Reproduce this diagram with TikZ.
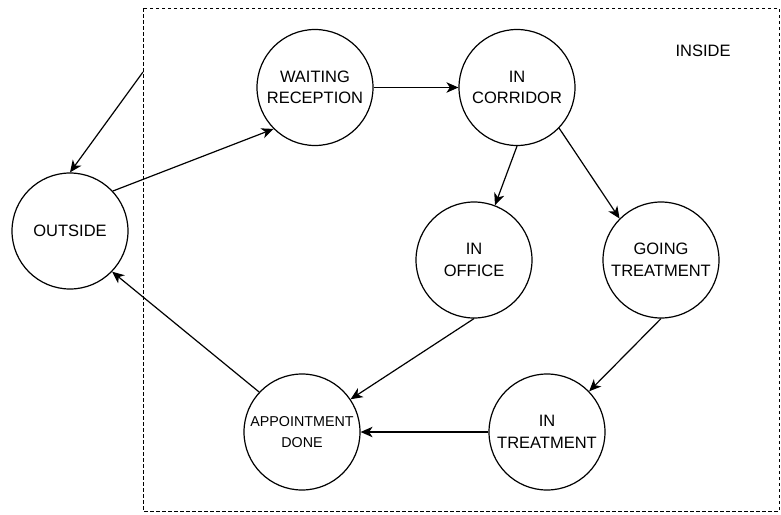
\documentclass[tikz,border=0pt]{standalone}
\usepackage{fontspec}
\setmainfont{Liberation Sans}
\usetikzlibrary{arrows.meta}
\begin{document}
\begin{tikzpicture}[x=1pt,y=-1pt,
  state/.style={draw, circle, line width=1.2pt, minimum size=116pt, inner sep=0pt,
    align=center, font=\fontsize{16.5}{21.6}\selectfont},
  flow/.style={line width=1.2pt, -{Stealth[length=12pt,width=10.5pt,inset=3.5pt]}},
  region/.style={draw, line width=1pt, dash pattern=on 3.5pt off 2.5pt}]
\useasboundingbox (0,0) rectangle (781,514);

% boundary of the building
\draw[region] (143,8) rectangle (779,511);
\node[font=\fontsize{16.5}{19}\selectfont] (inside) at (703,51) {INSIDE};

% states
\node[state] (out)    at (70,231)  {OUTSIDE};
\node[state] (wait)   at (315,87.5) {WAITING\\RECEPTION};
\node[state] (corr)   at (517,87.5) {IN\\CORRIDOR};
\node[state] (office) at (474,260) {IN\\OFFICE};
\node[state] (going)  at (661,260) {GOING\\TREATMENT};
\node[state] (appt)   at (302,432) {};
\node[font=\fontsize{14.3}{21.3}\selectfont, align=center] (apptlabel) at (302,432) {APPOINTMENT\\DONE};
\node[state] (treat)  at (547,432) {IN\\TREATMENT};

% entry point on the boundary
\coordinate (entry) at (143,72);

% transitions
\draw[flow] (entry) -- (out.north);
\draw[flow] (out.43) -- (wait.225);
\draw[flow] (wait.east) -- (corr.west);
\draw[flow] (corr.south) -- (office.69);
\draw[flow] (corr.-44) -- (going.135);
\draw[flow] (going.south) -- (treat.44);
\draw[flow] (office.south) -- (appt.34);
\draw[flow] (treat.west) -- (appt.east);
\draw[flow] (appt.137) -- (out.-44);
\end{tikzpicture}
\end{document}
